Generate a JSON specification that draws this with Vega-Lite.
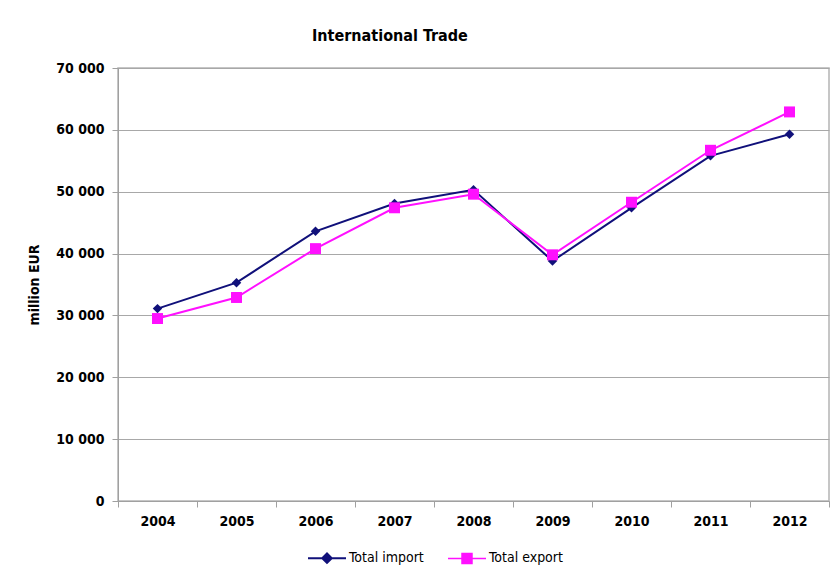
{
  "$schema": "https://vega.github.io/schema/vega-lite/v6.json",
  "width": 711,
  "height": 433,
  "autosize": {"type": "none"},
  "padding": {"left": 118, "top": 68, "right": 6, "bottom": 68},
  "background": "#ffffff",
  "config": {
    "locale": {"number": {"decimal": ".", "thousands": " ", "grouping": [3], "currency": ["", ""]}},
    "font": "DejaVu Sans Condensed, Liberation Sans, sans-serif",
    "view": {"stroke": "#b4b4b4", "strokeWidth": 1.5}
  },
  "title": {
    "text": "International Trade",
    "anchor": "start",
    "frame": "group",
    "dx": 194,
    "offset": 17,
    "fontSize": 16,
    "fontWeight": "bold",
    "color": "#000000"
  },
  "data": {
    "values": [
      {"year": "2004", "series": "Total import", "value": 31100},
      {"year": "2005", "series": "Total import", "value": 35300},
      {"year": "2006", "series": "Total import", "value": 43600},
      {"year": "2007", "series": "Total import", "value": 48100},
      {"year": "2008", "series": "Total import", "value": 50300},
      {"year": "2009", "series": "Total import", "value": 38800},
      {"year": "2010", "series": "Total import", "value": 47400},
      {"year": "2011", "series": "Total import", "value": 55800},
      {"year": "2012", "series": "Total import", "value": 59300},
      {"year": "2004", "series": "Total export", "value": 29500},
      {"year": "2005", "series": "Total export", "value": 32900},
      {"year": "2006", "series": "Total export", "value": 40800},
      {"year": "2007", "series": "Total export", "value": 47400},
      {"year": "2008", "series": "Total export", "value": 49600},
      {"year": "2009", "series": "Total export", "value": 39800},
      {"year": "2010", "series": "Total export", "value": 48300},
      {"year": "2011", "series": "Total export", "value": 56700},
      {"year": "2012", "series": "Total export", "value": 62900}
    ]
  },
  "encoding": {
    "x": {
      "field": "year", "type": "ordinal",
      "scale": {"paddingInner": 0, "paddingOuter": 0},
      "axis": {
        "title": null, "labelAngle": 0, "tickBand": "extent", "grid": false,
        "domainColor": "#a0a0a0", "tickColor": "#a0a0a0", "tickSize": 6,
        "labelFontSize": 14, "labelFontWeight": "bold", "labelColor": "#000000", "labelPadding": 7
      }
    },
    "y": {
      "field": "value", "type": "quantitative",
      "scale": {"domain": [0, 70000], "nice": false},
      "axis": {
        "title": "million EUR", "values": [0, 10000, 20000, 30000, 40000, 50000, 60000, 70000],
        "format": ",d", "gridColor": "#a8a8a8", "gridWidth": 1.2,
        "domainColor": "#a0a0a0", "tickColor": "#a0a0a0", "tickSize": 6,
        "labelFontSize": 14, "labelFontWeight": "bold", "labelColor": "#000000", "labelPadding": 8,
        "titleFontSize": 14, "titleFontWeight": "bold", "titleColor": "#000000", "titlePadding": 14
      }
    },
    "color": {
      "field": "series", "type": "nominal",
      "scale": {"domain": ["Total import", "Total export"], "range": ["#10107a", "#ff10ff"]},
      "legend": {
        "title": null, "orient": "none", "direction": "horizontal",
        "legendX": 189, "legendY": 470,
        "symbolSize": 1444, "symbolStrokeWidth": 1.5,
        "labelFontSize": 14, "labelColor": "#000000",
        "labelOffset": 2, "columnPadding": 20,
        "encode": {
          "symbols": {
            "update": {
              "shape": {"signal": "datum.label === 'Total import' ? 'M-1,0L1,0M-0.25,0L0,-0.25L0.25,0L0,0.25Z' : 'M-1,0L1,0M-0.26,-0.26L0.26,-0.26L0.26,0.26L-0.26,0.26Z'"},
              "stroke": {"signal": "datum.label === 'Total import' ? '#10107a' : '#ff10ff'"},
              "fill": {"signal": "datum.label === 'Total import' ? '#10107a' : '#ff10ff'"},
              "strokeWidth": {"value": 1.5},
              "size": {"value": 1444},
              "opacity": {"value": 1}
            }
          }
        }
      }
    }
  },
  "layer": [
    {
      "mark": {"type": "line", "strokeWidth": 2},
      "encoding": {
        "strokeWidth": {"field": "series", "type": "nominal", "legend": null,
          "scale": {"domain": ["Total import", "Total export"], "range": [2, 1.6]}}
      }
    },
    {
      "transform": [{"filter": "datum.series === 'Total import'"}],
      "mark": {"type": "point", "filled": true, "opacity": 1, "shape": "diamond", "size": 90}
    },
    {
      "transform": [{"filter": "datum.series === 'Total export'"}],
      "mark": {"type": "point", "filled": true, "opacity": 1, "shape": "square", "size": 120}
    }
  ]
}
